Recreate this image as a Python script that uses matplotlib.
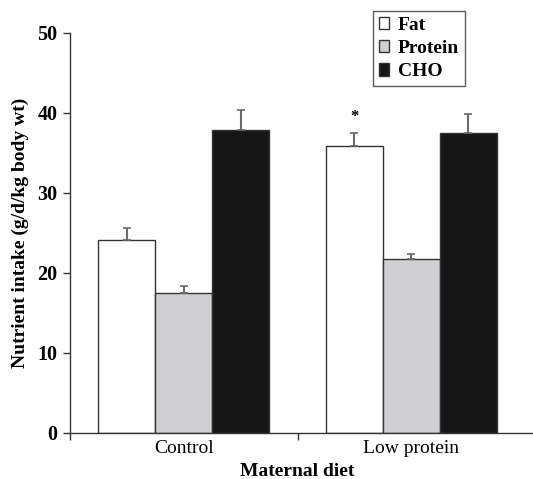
import matplotlib
matplotlib.use("Agg")
import matplotlib.pyplot as plt
import numpy as np
from matplotlib.patches import Patch

groups = ["Control", "Low protein"]
series = ["Fat", "Protein", "CHO"]
means = {
    "Fat": [24.1, 35.9],
    "Protein": [17.5, 21.7],
    "CHO": [37.9, 37.5],
}
sems = {
    "Fat": [1.5, 1.6],
    "Protein": [0.8, 0.7],
    "CHO": [2.5, 2.4],
}
colors = {"Fat": "#ffffff", "Protein": "#d0d0d2", "CHO": "#161616"}
yticks = [0, 10, 20, 30, 40, 50]

plt.rcParams['font.family'] = ['Liberation Serif', 'DejaVu Serif']

W, H = 533, 479
fig = plt.figure(figsize=(W / 100, H / 100), dpi=100)
ax = fig.add_axes([70 / W, 1 - 432.7 / H, (533 - 70) / W, 400 / H])

width = 0.25
x = np.arange(len(groups))
for i, s in enumerate(series):
    pos = x + (i - 1) * width
    ax.bar(pos, means[s], width, color=colors[s], edgecolor="#333333",
           linewidth=1.0, zorder=2)
    ax.errorbar(pos, means[s], yerr=[np.zeros(len(groups)), sems[s]],
                fmt="none", ecolor="#6a6a6a", elinewidth=1.5, capsize=3,
                capthick=1.2, zorder=3, clip_on=False)

# significance marker
ax.text(1 - width, means["Fat"][1] + sems["Fat"][1] + 1.0, "*",
        ha="center", va="bottom", fontsize=12, fontweight="bold")

ax.set_ylim(0, 50)
ax.set_xlim(-0.5, -0.5 + 463 / 227.5)
ax.set_yticks(yticks)
ax.set_yticklabels([str(v) for v in yticks], fontsize=14.5, fontweight="bold")
ax.tick_params(axis="y", direction="out", length=5, width=1, color="#333333", pad=4)

ax.set_xticks(x)
ax.set_xticklabels(groups, fontsize=14)
ax.tick_params(axis="x", which="major", length=0, pad=5)
ax.set_xticks([-0.5, 0.5], minor=True)
ax.tick_params(axis="x", which="minor", direction="out", length=5, width=1, color="#333333")

for sp in ["top", "right"]:
    ax.spines[sp].set_visible(False)
for sp in ["left", "bottom"]:
    ax.spines[sp].set_color("#333333")
    ax.spines[sp].set_linewidth(1.0)

ax.set_ylabel("Nutrient intake (g/d/kg body wt)", fontsize=14, fontweight="bold", labelpad=6)
ax.set_xlabel("Maternal diet", fontsize=14, fontweight="bold", labelpad=2)
ax.xaxis.set_label_coords((297 - 70) / 463, -0.075)

handles = [Patch(facecolor=colors[s], edgecolor="#333333", linewidth=1.0, label=s) for s in series]
leg = fig.legend(handles=handles, loc="upper left", bbox_to_anchor=(372.7 / W, 1 - 11 / H),
                 frameon=True, fancybox=False, edgecolor="#333333",
                 prop={"size": 14, "weight": "bold"}, handlelength=0.55, handleheight=0.6,
                 handletextpad=0.45, labelspacing=0.32, borderpad=0.3, borderaxespad=0)
leg.get_frame().set_linewidth(1.0)

fig.savefig("out.png", dpi=100)
